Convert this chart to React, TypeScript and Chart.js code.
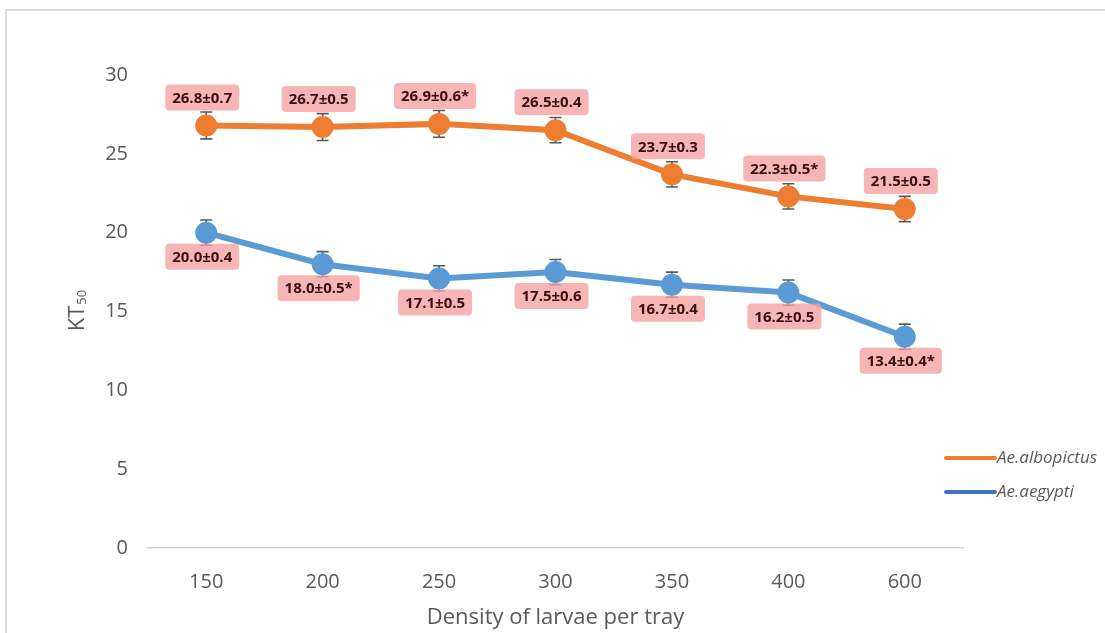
import React, { useEffect, useRef } from "react";
import { Chart, registerables } from "chart.js";

Chart.register(...registerables);

const categories = ["150", "200", "250", "300", "350", "400", "600"];
const albopictus = [26.8, 26.7, 26.9, 26.5, 23.7, 22.3, 21.5];
const albopictusSE = [0.7, 0.5, 0.6, 0.4, 0.3, 0.5, 0.5];
const albopictusStar = [false, false, true, false, false, true, false];
const albopictusBar = [0.85, 0.85, 0.85, 0.8, 0.8, 0.8, 0.8];
const aegypti = [20.0, 18.0, 17.1, 17.5, 16.7, 16.2, 13.4];
const aegyptiSE = [0.4, 0.5, 0.5, 0.6, 0.4, 0.5, 0.4];
const aegyptiStar = [false, true, false, false, false, false, true];
const aegyptiBar = [0.8, 0.8, 0.8, 0.8, 0.8, 0.8, 0.8];
const yTicks = [0, 5, 10, 15, 20, 25, 30];

const ORANGE = "#ED7D31";
const BLUE = "#5B9BD5";
const BLUE_LEGEND = "#4472C4";
const TEXT = "#595959";
const FONT = "'Open Sans', 'Noto Sans', sans-serif";

const fmt = (v: number, e: number, star: boolean) =>
  `${v.toFixed(1)}±${e.toFixed(1)}${star ? "*" : ""}`;

export default function App() {
  const ref = useRef<HTMLCanvasElement | null>(null);
  useEffect(() => {
    if (!ref.current) return;
    const meta = [
      { se: albopictusSE, star: albopictusStar, bar: albopictusBar, dir: -1, legendColor: ORANGE },
      { se: aegyptiSE, star: aegyptiStar, bar: aegyptiBar, dir: 1, legendColor: BLUE_LEGEND },
    ];
    const plugin = {
      id: "custom",
      beforeDraw(chart: any) {
        const ctx = chart.ctx;
        ctx.save();
        ctx.fillStyle = "#ffffff";
        ctx.fillRect(0, 0, chart.width, chart.height);
        ctx.strokeStyle = "#dcdcdc";
        ctx.lineWidth = 2;
        ctx.strokeRect(6, 10, chart.width + 10, chart.height + 10);
        ctx.restore();
      },
      beforeDatasetsDraw(chart: any) {
        const ctx = chart.ctx;
        const y = chart.scales.y;
        ctx.save();
        ctx.strokeStyle = "#595959";
        ctx.lineWidth = 1.6;
        chart.data.datasets.forEach((ds: any, i: number) => {
          const m = chart.getDatasetMeta(i);
          m.data.forEach((pt: any, j: number) => {
            const v = ds.data[j];
            const e = meta[i].bar[j];
            const yt = y.getPixelForValue(v + e);
            const yb = y.getPixelForValue(v - e);
            ctx.beginPath();
            ctx.moveTo(pt.x, yt);
            ctx.lineTo(pt.x, yb);
            ctx.moveTo(pt.x - 6, yt);
            ctx.lineTo(pt.x + 6, yt);
            ctx.moveTo(pt.x - 6, yb);
            ctx.lineTo(pt.x + 6, yb);
            ctx.stroke();
          });
        });
        ctx.restore();
      },
      afterDatasetsDraw(chart: any) {
        const ctx = chart.ctx;
        ctx.save();
        ctx.font = `bold 15px ${FONT}`;
        ctx.textAlign = "center";
        ctx.textBaseline = "middle";
        chart.data.datasets.forEach((ds: any, i: number) => {
          const m = chart.getDatasetMeta(i);
          m.data.forEach((pt: any, j: number) => {
            const txt = fmt(ds.data[j], meta[i].se[j], meta[i].star[j]);
            const w = ctx.measureText(txt).width + 14;
            const h = 26;
            const cx = pt.x - 4;
            const cy = pt.y + (meta[i].dir < 0 ? -28 : 24);
            ctx.fillStyle = "rgba(245,160,160,0.78)";
            ctx.beginPath();
            (ctx as any).roundRect(cx - w / 2, cy - h / 2, w, h, 4);
            ctx.fill();
            ctx.fillStyle = "#3a0d12";
            ctx.fillText(txt, cx, cy + 1);
          });
        });
        // legend
        ctx.textAlign = "left";
        ctx.font = `italic 17px ${FONT}`;
        chart.data.datasets.forEach((ds: any, i: number) => {
          const ly = 458 + i * 34;
          ctx.strokeStyle = meta[i].legendColor;
          ctx.lineWidth = 4;
          ctx.lineCap = "round";
          ctx.beginPath();
          ctx.moveTo(946, ly);
          ctx.lineTo(995, ly);
          ctx.stroke();
          ctx.fillStyle = TEXT;
          ctx.fillText(ds.label, 997, ly);
        });
        // y title
        ctx.translate(76, 311);
        ctx.rotate(-Math.PI / 2);
        ctx.fillStyle = TEXT;
        ctx.font = `22px ${FONT}`;
        ctx.textBaseline = "alphabetic";
        const kt = "KT";
        const sub = "50";
        const w1 = ctx.measureText(kt).width;
        ctx.font = `13px ${FONT}`;
        const w2 = ctx.measureText(sub).width;
        const x0 = -(w1 + w2) / 2;
        ctx.font = `22px ${FONT}`;
        ctx.fillText(kt, x0, 8);
        ctx.font = `13px ${FONT}`;
        ctx.fillText(sub, x0 + w1 + 1, 10);
        ctx.restore();
      },
    };
    const chart = new Chart(ref.current, {
      type: "line",
      data: {
        labels: categories,
        datasets: [
          {
            label: "Ae.albopictus",
            data: albopictus,
            borderColor: ORANGE,
            backgroundColor: ORANGE,
            borderWidth: 6,
            pointRadius: 8,
            pointHoverRadius: 8,
            pointBackgroundColor: ORANGE,
            pointBorderColor: ORANGE,
            tension: 0,
          },
          {
            label: "Ae.aegypti",
            data: aegypti,
            borderColor: BLUE,
            backgroundColor: BLUE,
            borderWidth: 6,
            pointRadius: 8,
            pointHoverRadius: 8,
            pointBackgroundColor: BLUE,
            pointBorderColor: BLUE,
            tension: 0,
          },
        ],
      },
      options: {
        animation: false,
        responsive: false,
        layout: { padding: { left: 0, right: 142, top: 75, bottom: 0 } },
        plugins: { legend: { display: false }, tooltip: { enabled: false } },
        scales: {
          x: {
            offset: true,
            grid: { display: false, drawTicks: false },
            border: { display: true, color: "#d0d0d0", width: 1.5 },
            ticks: { color: TEXT, font: { size: 20, family: FONT }, padding: 22 },
            title: {
              display: true,
              text: "Density of larvae per tray",
              color: TEXT,
              font: { size: 22, family: FONT },
              padding: { top: 0, bottom: 2 },
            },
            afterFit: (s: any) => {
              s.height = 85;
            },
          },
          y: {
            min: 0,
            max: 30,
            afterBuildTicks: (s: any) => {
              s.ticks = yTicks.map((v) => ({ value: v }));
            },
            grid: { display: false, drawTicks: false },
            border: { display: false },
            ticks: { color: TEXT, font: { size: 20, family: FONT }, padding: 20 },
            afterFit: (s: any) => {
              s.width = 148;
            },
          },
        },
      },
      plugins: [plugin],
    });
    return () => chart.destroy();
  }, []);
  return (
    <div style={{ position: "absolute", left: 0, top: 0, width: 1105, height: 633 }}>
      <canvas ref={ref} width={1105} height={633} style={{ width: 1105, height: 633 }} />
    </div>
  );
}
